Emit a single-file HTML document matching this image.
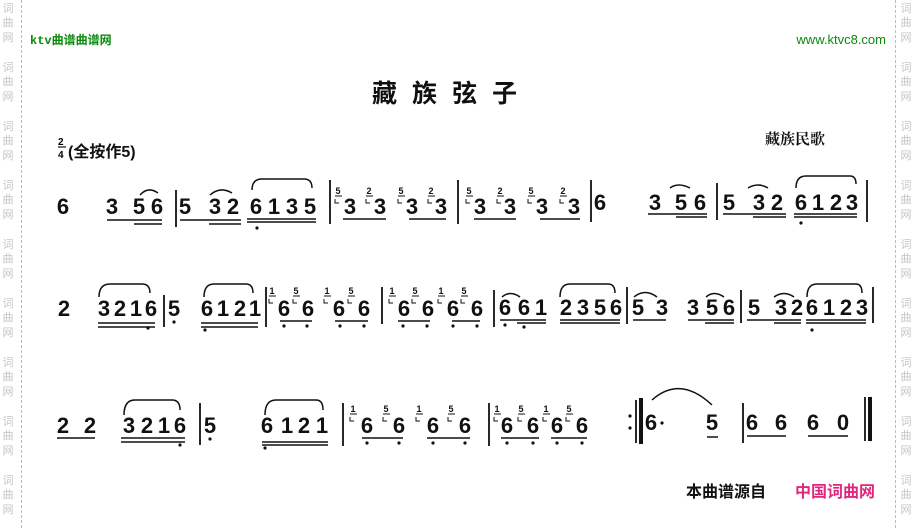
<!DOCTYPE html>
<html><head><meta charset="utf-8"><style>
html,body{margin:0;padding:0;background:#fff;}
svg{display:block;}
.n{font-family:"Liberation Sans",sans-serif;font-weight:bold;font-size:22px;text-anchor:middle;fill:#111;}
.g{font-family:"Liberation Sans",sans-serif;font-weight:bold;font-size:9px;text-anchor:middle;fill:#111;}
.w{font-family:"Noto Sans CJK SC",sans-serif;font-size:11px;fill:#c4c4c4;text-anchor:middle;}
</style></head><body>
<svg width="917" height="528" viewBox="0 0 917 528" xmlns="http://www.w3.org/2000/svg">
<g class="w">
<text x="8" y="12">词</text><text x="8" y="26">曲</text><text x="8" y="41">网</text>
<text x="8" y="71">词</text><text x="8" y="85">曲</text><text x="8" y="100">网</text>
<text x="8" y="130">词</text><text x="8" y="144">曲</text><text x="8" y="159">网</text>
<text x="8" y="189">词</text><text x="8" y="203">曲</text><text x="8" y="218">网</text>
<text x="8" y="248">词</text><text x="8" y="262">曲</text><text x="8" y="277">网</text>
<text x="8" y="307">词</text><text x="8" y="321">曲</text><text x="8" y="336">网</text>
<text x="8" y="366">词</text><text x="8" y="380">曲</text><text x="8" y="395">网</text>
<text x="8" y="425">词</text><text x="8" y="439">曲</text><text x="8" y="454">网</text>
<text x="8" y="484">词</text><text x="8" y="498">曲</text><text x="8" y="513">网</text>
<text x="906" y="12">词</text><text x="906" y="26">曲</text><text x="906" y="41">网</text>
<text x="906" y="71">词</text><text x="906" y="85">曲</text><text x="906" y="100">网</text>
<text x="906" y="130">词</text><text x="906" y="144">曲</text><text x="906" y="159">网</text>
<text x="906" y="189">词</text><text x="906" y="203">曲</text><text x="906" y="218">网</text>
<text x="906" y="248">词</text><text x="906" y="262">曲</text><text x="906" y="277">网</text>
<text x="906" y="307">词</text><text x="906" y="321">曲</text><text x="906" y="336">网</text>
<text x="906" y="366">词</text><text x="906" y="380">曲</text><text x="906" y="395">网</text>
<text x="906" y="425">词</text><text x="906" y="439">曲</text><text x="906" y="454">网</text>
<text x="906" y="484">词</text><text x="906" y="498">曲</text><text x="906" y="513">网</text>
</g>
<line x1="21.5" y1="0" x2="21.5" y2="528" stroke="#bbb" stroke-dasharray="3,2"/>
<line x1="895.5" y1="0" x2="895.5" y2="528" stroke="#bbb" stroke-dasharray="3,2"/>

<text x="30" y="44" font-family="Liberation Mono,Noto Sans CJK SC,sans-serif" font-size="12" font-weight="bold" fill="#0a8a0a">ktv曲谱曲谱网</text>
<text x="886" y="44" font-family="Liberation Sans,sans-serif" font-size="13" fill="#0a8a0a" text-anchor="end">www.ktvc8.com</text>

<g font-family="Noto Sans CJK SC,sans-serif" font-size="25" font-weight="bold" fill="#111">
<text x="372" y="102">藏</text><text x="412" y="102">族</text><text x="452" y="102">弦</text><text x="492" y="102">子</text>
</g>
<text x="765" y="144" font-family="Noto Serif CJK SC,serif" font-size="15" font-weight="bold" fill="#111">藏族民歌</text>
<text x="58" y="145" font-family="Liberation Sans,sans-serif" font-size="10" font-weight="bold">2</text>
<line x1="58" y1="147" x2="66" y2="147" stroke="#111" stroke-width="1.2"/>
<text x="58" y="158" font-family="Liberation Sans,sans-serif" font-size="10" font-weight="bold">4</text>
<text x="68" y="157" font-family="Liberation Sans,Noto Sans CJK SC,sans-serif" font-size="16" font-weight="bold" fill="#111">(全按作5)</text>

<g stroke="#111" stroke-width="1.8" fill="none">
<line x1="176" y1="190" x2="176" y2="227"/><line x1="330" y1="180" x2="330" y2="224"/><line x1="458" y1="180" x2="458" y2="224"/>
<line x1="591" y1="180" x2="591" y2="222"/><line x1="717" y1="183" x2="717" y2="220"/><line x1="867" y1="180" x2="867" y2="222"/>
<line x1="164" y1="295" x2="164" y2="327"/><line x1="266" y1="287" x2="266" y2="327"/><line x1="382" y1="287" x2="382" y2="324"/>
<line x1="494" y1="290" x2="494" y2="327"/><line x1="627" y1="287" x2="627" y2="324"/><line x1="741" y1="290" x2="741" y2="323"/><line x1="873" y1="287" x2="873" y2="323"/>
<line x1="200" y1="403" x2="200" y2="445"/><line x1="343" y1="403" x2="343" y2="446"/><line x1="489" y1="403" x2="489" y2="446"/>
<line x1="636" y1="400" x2="636" y2="443"/><line x1="743" y1="403" x2="743" y2="443"/>
<line x1="641" y1="398" x2="641" y2="444" stroke-width="4"/>
<line x1="865" y1="397" x2="865" y2="441"/><line x1="870" y1="397" x2="870" y2="441" stroke-width="4"/>
</g>

<g stroke="#111" stroke-width="1.5" fill="none">
<path d="M107 220H162M134 224H162M180 220H241M209 224H241M247 219H316M247 222H316"/>
<path d="M343 219H386M409 219H446M474 219H516M540 219H580"/>
<path d="M648 214H707M676 217H707M723 214H786M753 217H786M794 214H857M794 217H857"/>
<path d="M140 195Q148 186 158 193M210 195Q220 186 232 193M252 190Q252 179 262 179H304Q312 179 312 188M796 188Q796 176 806 176H850Q856 176 856 184M670 188Q678 182 690 188M748 188Q758 182 768 188"/>
<path d="M98 323H155M98 327H155M201 323H258M201 327H258M280 321H312M335 321H368M398 321H430M452 321H480"/>
<path d="M500 320H546M517 323H546M560 320H620M560 323H620M633 320H666M688 320H734M705 323H734M747 320H801M774 323H801M806 320H866M806 323H866"/>
<path d="M99 297Q99 284 110 284H142Q150 284 150 293M204 297Q204 284 214 284H246Q253 284 253 293M502 297Q510 290 520 297M560 297Q560 284 570 284H608Q615 284 615 293M634 297Q645 288 657 297M706 297Q714 290 724 297M774 297Q784 290 794 297M807 297Q807 284 817 284H856Q862 284 862 293"/>
<path d="M57 438H95M121 438H185M121 442H185M262 442H328M262 445H328M362 438H403M427 438H470M501 438H539M551 438H587"/>
<path d="M707 437H718M747 436H786M808 436H848"/>
<path d="M124 415Q124 400 135 400H172Q180 400 180 410M265 415Q265 400 276 400H316Q323 400 323 410M652 400Q680 375 712 405"/>
</g>

<g class="n">
<text x="63" y="214">6</text>
<text x="112" y="214">3</text><text x="139" y="214">5</text><text x="157" y="214">6</text>
<text x="185" y="214">5</text><text x="215" y="214">3</text><text x="233" y="214">2</text>
<text x="256" y="214">6</text><text x="274" y="214">1</text><text x="292" y="214">3</text><text x="310" y="214">5</text>
<text x="350" y="214">3</text><text x="380" y="214">3</text><text x="412" y="214">3</text><text x="441" y="214">3</text>
<text x="480" y="214">3</text><text x="510" y="214">3</text><text x="542" y="214">3</text><text x="574" y="214">3</text>
<text x="600" y="210">6</text>
<text x="655" y="210">3</text><text x="681" y="210">5</text><text x="700" y="210">6</text>
<text x="729" y="210">5</text><text x="759" y="210">3</text><text x="777" y="210">2</text>
<text x="801" y="210">6</text><text x="818" y="210">1</text><text x="836" y="210">2</text><text x="852" y="210">3</text>
<text x="64" y="316">2</text>
<text x="104" y="316">3</text><text x="120" y="316">2</text><text x="136" y="316">1</text><text x="151" y="316">6</text>
<text x="174" y="316">5</text>
<text x="207" y="316">6</text><text x="223" y="316">1</text><text x="240" y="316">2</text><text x="255" y="316">1</text>
<text x="284" y="316">6</text><text x="308" y="316">6</text><text x="339" y="316">6</text><text x="364" y="316">6</text>
<text x="404" y="316">6</text><text x="428" y="316">6</text><text x="453" y="316">6</text><text x="477" y="316">6</text>
<text x="505" y="315">6</text><text x="524" y="315">6</text><text x="541" y="315">1</text>
<text x="566" y="315">2</text><text x="583" y="315">3</text><text x="600" y="315">5</text><text x="616" y="315">6</text>
<text x="638" y="315">5</text><text x="662" y="315">3</text>
<text x="693" y="315">3</text><text x="712" y="315">5</text><text x="729" y="315">6</text>
<text x="754" y="315">5</text><text x="781" y="315">3</text><text x="797" y="315">2</text>
<text x="812" y="315">6</text><text x="829" y="315">1</text><text x="846" y="315">2</text><text x="862" y="315">3</text>
<text x="63" y="433">2</text><text x="90" y="433">2</text>
<text x="129" y="433">3</text><text x="147" y="433">2</text><text x="164" y="433">1</text><text x="180" y="433">6</text>
<text x="210" y="433">5</text>
<text x="267" y="433">6</text><text x="287" y="433">1</text><text x="304" y="433">2</text><text x="322" y="433">1</text>
<text x="367" y="433">6</text><text x="399" y="433">6</text><text x="433" y="433">6</text><text x="465" y="433">6</text>
<text x="507" y="433">6</text><text x="533" y="433">6</text><text x="557" y="433">6</text><text x="582" y="433">6</text>
<text x="651" y="430">6</text><text x="712" y="430">5</text>
<text x="752" y="430">6</text><text x="781" y="430">6</text><text x="813" y="430">6</text><text x="843" y="430">0</text>
</g>

<g class="g">
<text x="338" y="194">5</text><text x="369" y="194">2</text><text x="401" y="194">5</text><text x="431" y="194">2</text>
<text x="469" y="194">5</text><text x="500" y="194">2</text><text x="531" y="194">5</text><text x="563" y="194">2</text>
<text x="272" y="294">1</text><text x="296" y="294">5</text><text x="327" y="294">1</text><text x="351" y="294">5</text>
<text x="392" y="294">1</text><text x="415" y="294">5</text><text x="441" y="294">1</text><text x="464" y="294">5</text>
<text x="353" y="412">1</text><text x="386" y="412">5</text><text x="419" y="412">1</text><text x="451" y="412">5</text>
<text x="497" y="412">1</text><text x="521" y="412">5</text><text x="546" y="412">1</text><text x="569" y="412">5</text>
</g>
<g stroke="#111" stroke-width="1" fill="none">
<path d="M335 196H342M335 199v4h4M366 196H373M366 199v4h4M398 196H405M398 199v4h4M428 196H435M428 199v4h4M466 196H473M466 199v4h4M497 196H504M497 199v4h4M528 196H535M528 199v4h4M560 196H567M560 199v4h4"/>
<path d="M269 296H276M269 299v4h4M293 296H300M293 299v4h4M324 296H331M324 299v4h4M348 296H355M348 299v4h4M389 296H396M389 299v4h4M412 296H419M412 299v4h4M438 296H445M438 299v4h4M461 296H468M461 299v4h4"/>
<path d="M350 414H357M350 417v4h4M383 414H390M383 417v4h4M416 414H423M416 417v4h4M448 414H455M448 417v4h4M494 414H501M494 417v4h4M518 414H525M518 417v4h4M543 414H550M543 417v4h4M566 414H573M566 417v4h4"/>
</g>
<g fill="#111">
<circle cx="257" cy="228" r="1.6"/><circle cx="801" cy="223" r="1.6"/>
<circle cx="148" cy="328" r="1.6"/><circle cx="174" cy="322" r="1.6"/><circle cx="205" cy="330" r="1.6"/>
<circle cx="284" cy="326" r="1.6"/><circle cx="307" cy="326" r="1.6"/><circle cx="340" cy="326" r="1.6"/><circle cx="364" cy="326" r="1.6"/>
<circle cx="403" cy="326" r="1.6"/><circle cx="427" cy="326" r="1.6"/><circle cx="453" cy="326" r="1.6"/><circle cx="477" cy="326" r="1.6"/>
<circle cx="505" cy="325" r="1.6"/><circle cx="524" cy="327" r="1.6"/><circle cx="812" cy="330" r="1.6"/>
<circle cx="180" cy="445" r="1.6"/><circle cx="210" cy="439" r="1.6"/><circle cx="265" cy="448" r="1.6"/>
<circle cx="367" cy="443" r="1.6"/><circle cx="399" cy="443" r="1.6"/><circle cx="433" cy="443" r="1.6"/><circle cx="465" cy="443" r="1.6"/>
<circle cx="507" cy="443" r="1.6"/><circle cx="533" cy="443" r="1.6"/><circle cx="557" cy="443" r="1.6"/><circle cx="582" cy="443" r="1.6"/>
<circle cx="630" cy="416" r="1.6"/><circle cx="630" cy="428" r="1.6"/><circle cx="662" cy="423" r="1.6"/>
</g>

<text x="686" y="497" font-family="Noto Sans CJK SC,sans-serif" font-size="16" font-weight="bold" fill="#111">本曲谱源自</text>
<text x="795" y="497" font-family="Noto Sans CJK SC,sans-serif" font-size="16" font-weight="bold" fill="#e0267c">中国词曲网</text>
</svg>
</body></html>
